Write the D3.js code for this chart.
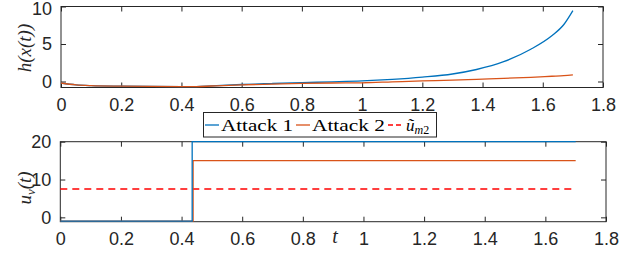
<!DOCTYPE html>
<html lang="en">
<head>
<meta charset="utf-8">
<title>Attack responses</title>
<style>
  html, body { margin: 0; padding: 0; background: #fff; }
  .tick text { font-family: "Liberation Sans", Arial, sans-serif; font-size: 18px; fill: #262626; }
  .tick line { stroke: #262626; }
  .ttl { font-family: "Liberation Serif", "DejaVu Serif", serif; font-style: italic; fill: #262626; }
  .leg { font-family: "Liberation Serif", "DejaVu Serif", serif; font-size: 17px; fill: #000; }
</style>
</head>
<body>
<svg id="chart" width="637" height="259"></svg>
<script src="https://d3js.org/d3.v7.min.js"></script>
<script>
// time grid used for h(x(t))
var tH = [0, 0.05, 0.1, 0.2, 0.3, 0.4, 0.45, 0.5, 0.6, 0.7, 0.8, 0.9, 1.0, 1.1, 1.2, 1.3, 1.38, 1.47, 1.56, 1.63, 1.67, 1.7];
var hAttack1 = [-0.2, -0.45, -0.55, -0.62, -0.66, -0.68, -0.68, -0.58, -0.4, -0.27, -0.15, -0.05, 0.07, 0.28, 0.58, 1.0, 1.6, 2.64, 4.3, 6.1, 7.6, 9.45];
var hAttack2 = [-0.2, -0.45, -0.55, -0.62, -0.66, -0.68, -0.68, -0.6, -0.45, -0.34, -0.26, -0.2, -0.17, -0.05, 0.07, 0.17, 0.28, 0.42, 0.56, 0.7, 0.78, 0.87];

// control signal u_v(t): step attacks
var tU1 = [0, 0.435, 0.435, 1.7];
var uAttack1 = [-1, -1, 20, 20];
var tU2 = [0, 0.438, 0.438, 1.7];
var uAttack2 = [-1, -1, 15, 15];
var tUm = [0, 1.69];
var uM2 = [7.5, 7.5];

var xTicks = [0, 0.2, 0.4, 0.6, 0.8, 1, 1.2, 1.4, 1.6, 1.8];
var hTicks = [0, 5, 10];
var uTicks = [0, 10, 20];

var legendNames = ["Attack 1", "Attack 2"];
var blue = "#0072BD", orange = "#D95319", red = "#FF0000";

var svg = d3.select("#chart");

function zip(xs, ys) { return xs.map(function(v, i) { return [v, ys[i]]; }); }

function panel(xr, yr, ydom, yticks) {
    var x = d3.scaleLinear().domain([0, 1.8]).range(xr);
    var y = d3.scaleLinear().domain(ydom).range(yr);
    var g = svg.append("g");
    g.append("rect").attr("x", xr[0]).attr("y", yr[1]).attr("width", xr[1] - xr[0]).attr("height", yr[0] - yr[1])
        .attr("fill", "#fff");
    var tl = 5;
    g.append("g").attr("transform", "translate(0," + yr[0] + ")")
        .call(d3.axisBottom(x).tickValues(xTicks).tickSize(-tl).tickPadding(11).tickFormat(d3.format("")));
    g.append("g").attr("transform", "translate(0," + yr[1] + ")")
        .call(d3.axisTop(x).tickValues(xTicks).tickSize(-tl).tickFormat(""));
    g.append("g").attr("transform", "translate(" + xr[0] + ",0)")
        .call(d3.axisLeft(y).tickValues(yticks).tickSize(-tl).tickPadding(tl + 4));
    g.append("g").attr("transform", "translate(" + xr[1] + ",0)")
        .call(d3.axisRight(y).tickValues(yticks).tickSize(-tl).tickFormat(""));
    g.selectAll(".domain").remove();
    g.append("rect").attr("x", xr[0]).attr("y", yr[1]).attr("width", xr[1] - xr[0]).attr("height", yr[0] - yr[1])
        .attr("fill", "none").attr("stroke", "#262626").attr("stroke-width", 1);
    return {x: x, y: y, g: g};
}

function drawLine(p, pts, color, dash) {
    var line = d3.line().x(function(d) { return p.x(d[0]); }).y(function(d) { return p.y(d[1]); });
    p.g.append("path").datum(pts).attr("d", line).attr("fill", "none")
        .attr("stroke", color).attr("stroke-width", 1.3)
        .attr("stroke-dasharray", dash || null);
}

// top panel: h(x(t))
var hPanel = panel([61, 603], [87.5, 6.5], [-0.8, 10], hTicks);
hPanel.g.selectAll(".tick text").filter(function(d) { return d === 10; }).attr("dy", "0.42em");
var curve = d3.line().curve(d3.curveMonotoneX)
    .x(function(d) { return hPanel.x(d[0]); }).y(function(d) { return hPanel.y(d[1]); });
hPanel.g.append("path").datum(zip(tH, hAttack1)).attr("d", curve).attr("fill", "none").attr("stroke", blue).attr("stroke-width", 1.3);
hPanel.g.append("path").datum(zip(tH, hAttack2)).attr("d", curve).attr("fill", "none").attr("stroke", orange).attr("stroke-width", 1.3);

svg.append("text").attr("class", "ttl").attr("font-size", 19)
    .attr("transform", "translate(31,48) rotate(-90)").attr("text-anchor", "middle")
    .text("h(x(t))");

// bottom panel: u_v(t)
var uPanel = panel([60.3, 606], [221.7, 141.7], [-1.15, 20], uTicks);
drawLine(uPanel, zip(tUm, uM2), red, "7,5");
drawLine(uPanel, zip(tU2, uAttack2), orange);
drawLine(uPanel, zip(tU1, uAttack1), blue);

var ul = svg.append("text").attr("class", "ttl").attr("font-size", 19)
    .attr("transform", "translate(31,188) rotate(-90)").attr("text-anchor", "middle");
ul.append("tspan").text("u");
ul.append("tspan").attr("font-size", 13).attr("dy", 4).text("v");
ul.append("tspan").attr("dy", -4).text("(t)");

svg.append("text").attr("class", "ttl").attr("font-size", 20)
    .attr("x", 335).attr("y", 243).attr("text-anchor", "middle").text("t");

// legend
var lg = svg.append("g");
lg.append("rect").attr("x", 203.5).attr("y", 112.5).attr("width", 233).attr("height", 24.5)
    .attr("fill", "#fff").attr("stroke", "#262626").attr("stroke-width", 1);
var items = [
    {x0: 205, x1: 219, tx: 221, tw: 72, color: blue, name: legendNames[0]},
    {x0: 296, x1: 310, tx: 312, tw: 73, color: orange, name: legendNames[1]}
];
items.forEach(function(it) {
    lg.append("line").attr("x1", it.x0).attr("x2", it.x1).attr("y1", 125).attr("y2", 125)
        .attr("stroke", it.color).attr("stroke-width", 1.3);
    lg.append("text").attr("class", "leg").attr("x", it.tx).attr("y", 130.5)
        .attr("textLength", it.tw).attr("lengthAdjust", "spacingAndGlyphs").text(it.name);
});
lg.append("line").attr("x1", 388).attr("x2", 404).attr("y1", 125).attr("y2", 125)
    .attr("stroke", red).attr("stroke-width", 1.3).attr("stroke-dasharray", "5,3");
var um = lg.append("text").attr("class", "leg").attr("x", 406).attr("y", 130.5).attr("font-style", "italic");
um.append("tspan").text("ũ");
um.append("tspan").attr("font-size", 12).attr("dy", 3).text("m");
um.append("tspan").attr("font-size", 12).attr("font-style", "normal").text("2");
</script>
</body>
</html>
